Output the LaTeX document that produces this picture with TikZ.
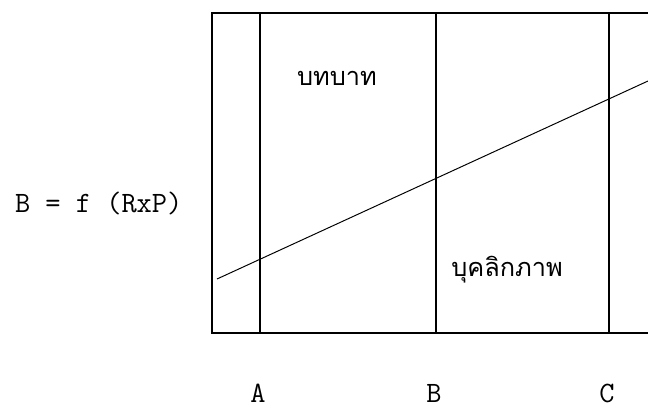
\documentclass[tikz,border=0pt]{standalone}
\usepackage{fontspec}
\newfontfamily\thaifont[Script=Thai]{Loma}
\begin{document}
\begin{tikzpicture}[x=0.025cm,y=-0.025cm,line width=0.9pt,
    font=\ttfamily\fontsize{21}{24}\selectfont]
  \useasboundingbox (0,0) rectangle (648,408);

  \coordinate (TL) at (212,13);
  \coordinate (TR) at (648,13);
  \coordinate (BL) at (212,333);
  \coordinate (BR) at (648,333);
  \coordinate (L) at (217,279);
  \coordinate (R) at (648,81);

  \draw (TR) -- (TL) -- (BL) -- (BR);
  \foreach \x/\n/\t in {260/A/258,436/B/434,609/C/607} {
    \draw (\x,13) -- (\x,333);
    \node[inner sep=0pt] (lab\n) at (\t,393) {\n};
  }
  \draw[line width=0.7pt] (L) -- (R);

  \node[anchor=east,inner sep=0pt] (eq) at (183,203) {B = f (RxP)};
  \node (role) at (337,78) {\thaifont\fontsize{18}{20}\selectfont บทบาท};
  \node (pers) at (507,270) {\thaifont\fontsize{18}{20}\selectfont บุคลิกภาพ};
\end{tikzpicture}
\end{document}
